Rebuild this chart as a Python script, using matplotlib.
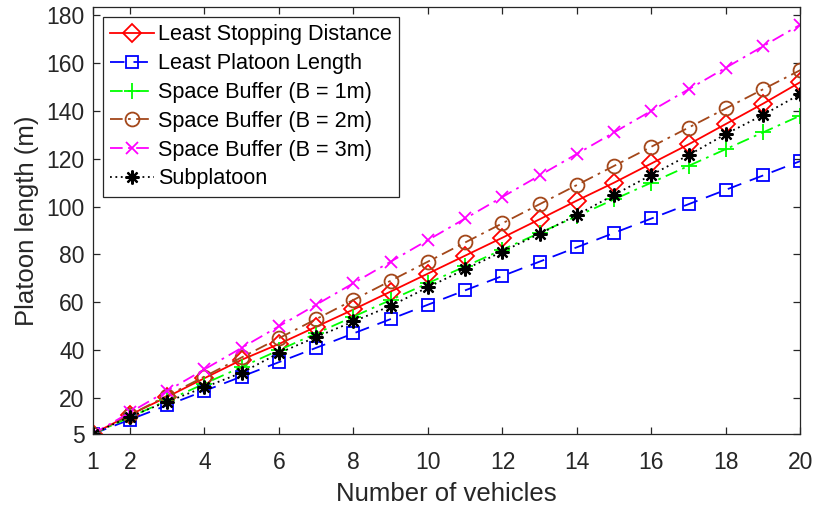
import matplotlib
matplotlib.use("Agg")
import matplotlib.pyplot as plt

plt.rcParams['font.family'] = ['Liberation Sans', 'DejaVu Sans']

n_vehicles = list(range(1, 21))
least_stopping = [5, 13, 20.5, 28.3, 36, 42.6, 49.8, 57, 64.5, 72, 79.5, 87, 94.7, 102.5,
                  110, 118, 126, 134.5, 143, 152]
least_platoon = [5, 11, 17, 23, 29, 35, 41, 47, 53, 59, 65, 71, 77, 83, 89, 95, 101, 107, 113, 119]
buffer_1m = [5, 12, 19, 26, 33, 40, 47, 54, 61, 68, 75, 82, 89, 96, 103, 110, 117, 124, 131, 138]
buffer_2m = [5, 13, 21, 29, 37, 45, 53, 61, 69, 77, 85, 93, 101, 109, 117, 125, 133, 141, 149, 157]
buffer_3m = [5, 14, 23, 32, 41, 50, 59, 68, 77, 86, 95, 104, 113, 122, 131, 140, 149, 158, 167, 176]
subplatoon = [5, 12.3, 18.5, 24.5, 30.6, 38.8, 45.5, 52, 58.5, 66.3, 73.8, 81.2, 88.6, 96.5,
              104.9, 113.2, 121.5, 130.3, 138.3, 147]

x_ticks = [1, 2, 4, 6, 8, 10, 12, 14, 16, 18, 20]
y_ticks = [5, 20, 40, 60, 80, 100, 120, 140, 160, 180]

labels = ["Least Stopping Distance", "Least Platoon Length", "Space Buffer (B = 1m)",
          "Space Buffer (B = 2m)", "Space Buffer (B = 3m)", "Subplatoon"]

fig = plt.figure(figsize=(8.14, 5.08), dpi=100)
ax = fig.add_axes([0.1139, 0.1457, 0.9834 - 0.1139, 0.9856 - 0.1457])

brown = (0.64, 0.28, 0.10)
lw = 1.3
dashdot = (0, (7, 3, 1.5, 3))

ax.plot(n_vehicles, least_stopping, color='red', linestyle='-', lw=lw, marker='D',
        markersize=9, markerfacecolor='none', markeredgewidth=1.3, label=labels[0])
ax.plot(n_vehicles, least_platoon, color='blue', linestyle=(0, (8, 5)), lw=lw, marker='s',
        markersize=8, markerfacecolor='none', markeredgewidth=1.3, label=labels[1])
ax.plot(n_vehicles, buffer_1m, color=(0, 1, 0), linestyle=dashdot, lw=lw, marker='+',
        markersize=11, markeredgewidth=1.3, label=labels[2])
ax.plot(n_vehicles, buffer_2m, color=brown, linestyle=dashdot, lw=lw, marker='o',
        markersize=10, markerfacecolor='none', markeredgewidth=1.3, label=labels[3])
ax.plot(n_vehicles, buffer_3m, color=(1, 0, 1), linestyle=dashdot, lw=lw, marker='x',
        markersize=8, markeredgewidth=1.3, label=labels[4])
ax.plot(n_vehicles, subplatoon, color='black', linestyle=(0, (1, 2)), lw=lw, marker=(8, 2, 0),
        markersize=10, markeredgewidth=1.6, label=labels[5])

ax.set_xlim(1, 20)
ax.set_ylim(5, 183.2)
ax.set_xticks(x_ticks)
ax.set_yticks(y_ticks)

axis_col = (0.15, 0.15, 0.15)
for sp in ax.spines.values():
    sp.set_color(axis_col)
    sp.set_linewidth(0.9)
ax.tick_params(direction='in', top=True, right=True, length=5, width=0.9,
               colors=axis_col, labelsize=16.5, labelcolor=axis_col)
ax.tick_params(axis='x', pad=12.5)
ax.tick_params(axis='y', pad=6)

ax.set_xlabel("Number of vehicles", fontsize=18.5, color=axis_col)
ax.set_ylabel("Platoon length (m)", fontsize=18.5, color=axis_col)
ax.xaxis.set_label_coords(0.5, -0.112)
ax.yaxis.set_label_coords(-0.076, 0.5)

leg = ax.legend(loc='upper left', bbox_to_anchor=(0.0142, 0.9775), fontsize=15.6,
                frameon=True, fancybox=False, framealpha=1, edgecolor=axis_col,
                handlelength=2.0, handletextpad=0.2, borderaxespad=0, borderpad=0.35,
                labelspacing=0.36)
leg.get_frame().set_linewidth(0.9)

fig.savefig("out.png", dpi=100)
